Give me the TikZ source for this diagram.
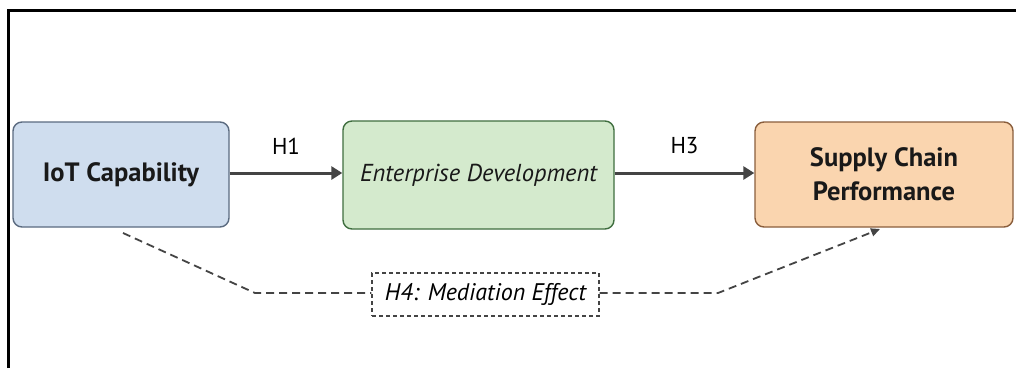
\documentclass[tikz,border=0pt]{standalone}
\usepackage{fontspec}
\setmainfont{PT Sans}
\usetikzlibrary{arrows.meta}
\definecolor{iotfill}{HTML}{CFDDEE}
\definecolor{iotline}{HTML}{5B6B80}
\definecolor{entfill}{HTML}{D4EACD}
\definecolor{entline}{HTML}{3F6E3F}
\definecolor{scpfill}{HTML}{FAD5AF}
\definecolor{scpline}{HTML}{8A5E3C}
\definecolor{arrowgray}{HTML}{444444}
\tikzset{
  construct/.style={draw, line width=1.4pt, rounded corners=9pt, align=center,
    inner sep=0pt, text=black!90},
  hypath/.style={arrowgray, line width=3pt, -{Triangle[length=11pt,width=13pt]}},
  mediation/.style={arrowgray, line width=1.8pt, dash pattern=on 8pt off 5pt},
}
\begin{document}
\begin{tikzpicture}[x=1pt, y=-1pt]
      \useasboundingbox (0,0) rectangle (1016,368);
      \fill [white] (0,0) rectangle (1016,368);
      \draw [line width=3pt] (8.5,368) -- (8.5,10.5) -- (1016,10.5);
      \node [construct, fill=iotfill, draw=iotline, minimum width=216pt, minimum height=105pt,
        font=\fontsize{26.5}{30}\selectfont\bfseries] (iot) at (121,174.5) {IoT Capability};
      \node [construct, fill=entfill, draw=entline, minimum width=271pt, minimum height=108pt,
        font=\fontsize{24.5}{28}\selectfont\itshape] (ent) at (478.5,175) {Enterprise Development};
      \node [construct, fill=scpfill, draw=scpline, minimum width=258pt, minimum height=105pt,
        font=\fontsize{26.5}{34}\selectfont\bfseries] (scp) at (884,174.5) {Supply Chain\\Performance};
      \draw [hypath] (iot.east |- 0,173) -- (ent.west |- 0,173)
        node [midway, above=14pt, black, font=\fontsize{23}{26}\selectfont] {H1};
      \draw [hypath] (ent.east |- 0,173) -- (scp.west |- 0,173)
        node [midway, above=14pt, black, font=\fontsize{23}{26}\selectfont] {H3};
      \node [draw=arrowgray, line width=1.2pt, dash pattern=on 4pt off 3pt,
        minimum width=227pt, minimum height=43pt, inner sep=0pt,
        font=\fontsize{24}{28}\selectfont\itshape] (med) at (485.5,294.5) {H4: Mediation Effect};
      \coordinate (fromiot) at (123,233);
      \coordinate (toscp) at (880,229);
      \draw [mediation] (fromiot) -- (255,293) -- (med.west |- 0,293);
      \draw [mediation, -{Triangle[length=9pt,width=8pt]}] (med.east |- 0,293)
        -- (718,293) -- (toscp);
    \end{tikzpicture}
\end{document}
